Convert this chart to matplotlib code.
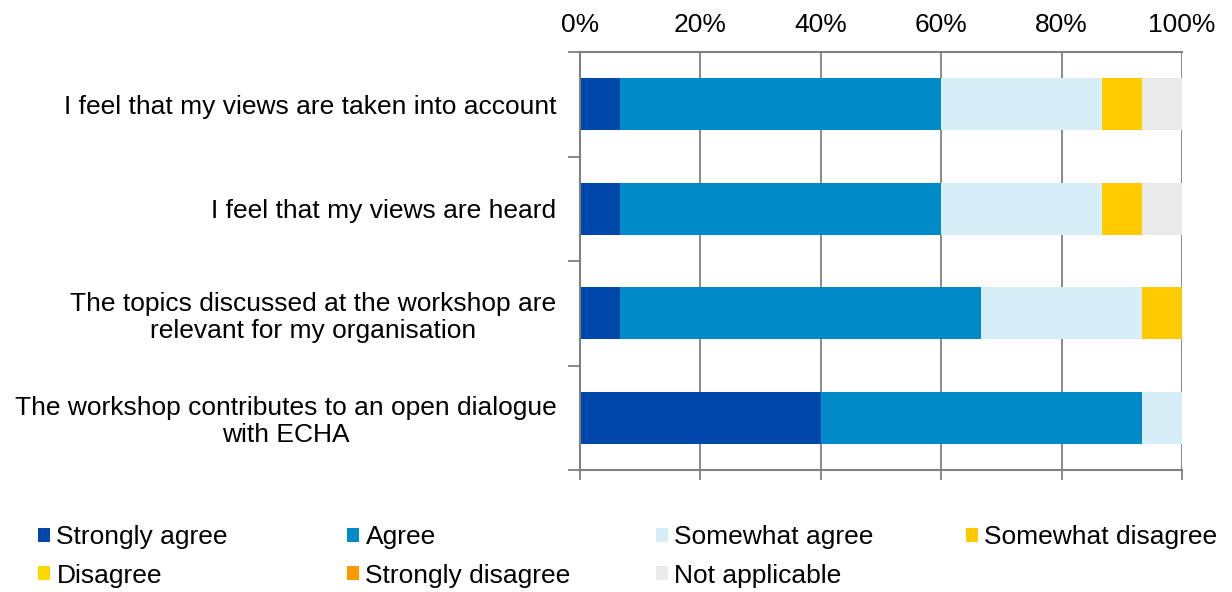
import matplotlib
matplotlib.use("Agg")
import matplotlib.pyplot as plt
from matplotlib.patches import Patch
import numpy as np

plt.rcParams['font.family'] = ['Liberation Sans', 'DejaVu Sans']

categories = [
    "I feel that my views are taken into account",
    "I feel that my views are heard",
    "The topics discussed at the workshop are\nrelevant for my organisation",
    "The workshop contributes to an open dialogue\nwith ECHA",
]
series_names = ["Strongly agree", "Agree", "Somewhat agree", "Somewhat disagree",
                "Disagree", "Strongly disagree", "Not applicable"]
values = {
    "Strongly agree":    [6.67, 6.67, 6.67, 40.0],
    "Agree":             [53.33, 53.33, 60.0, 53.33],
    "Somewhat agree":    [26.67, 26.67, 26.67, 6.67],
    "Somewhat disagree": [6.67, 6.67, 6.67, 0.0],
    "Disagree":          [0.0, 0.0, 0.0, 0.0],
    "Strongly disagree": [0.0, 0.0, 0.0, 0.0],
    "Not applicable":    [6.67, 6.67, 0.0, 0.0],
}
colors = {
    "Strongly agree": "#0047AB",
    "Agree": "#008AC8",
    "Somewhat agree": "#D7EEF9",
    "Somewhat disagree": "#FFCA00",
    "Disagree": "#FFD800",
    "Strongly disagree": "#FF9900",
    "Not applicable": "#EAEAEA",
}
xticks = [0, 20, 40, 60, 80, 100]
xticklabels = ["0%", "20%", "40%", "60%", "80%", "100%"]

FS = 19

fig = plt.figure(figsize=(12.32, 5.92), dpi=100)
ax = fig.add_axes([580/1232, 1 - 470/592, 602/1232, 418/592])

y = np.arange(len(categories))
left = np.zeros(len(categories))
for name in series_names:
    v = np.array(values[name])
    ax.barh(y, v, left=left, height=0.5, color=colors[name], edgecolor='none', zorder=3)
    left += v

ax.set_xlim(0, 100)
ax.set_ylim(len(categories) - 0.5, -0.5)
ax.set_xticks(xticks)
ax.tick_params(axis='x', which='both', top=False, bottom=True, labelbottom=False, labeltop=True,
               length=7, width=1.3, color='#808080', labelsize=FS, pad=4, direction='out')
ax.set_xticklabels(xticklabels)
ax.grid(axis='x', color='#808080', linewidth=1.3, zorder=0)

ax.set_yticks(y)
ax.set_yticklabels(categories, fontsize=FS, ha='right', multialignment='center', linespacing=1.15)
ax.tick_params(axis='y', which='major', length=0, pad=17)
ax.set_yticks(np.arange(len(categories) + 1) - 0.5, minor=True)
ax.tick_params(axis='y', which='minor', length=9, width=1.3, color='#808080', direction='out')

for s in ['left', 'bottom', 'top']:
    ax.spines[s].set_visible(True)
    ax.spines[s].set_color('#808080')
    ax.spines[s].set_linewidth(1.5)
    ax.spines[s].set_zorder(4)
ax.spines['right'].set_visible(False)

# legend: 4 columns, row-wise ordering
col_x = [38, 347, 656, 966]
for i in range(4):
    names = [series_names[i]]
    if i + 4 < len(series_names):
        names.append(series_names[i + 4])
    handles = [Patch(facecolor=colors[n], edgecolor='none') for n in names]
    fig.legend(handles, names, loc='upper left', bbox_to_anchor=(col_x[i] / 1232, 1 - 525/592),
               frameon=False, fontsize=FS, handlelength=0.45, handleheight=0.45,
               handletextpad=0.25, labelspacing=0.55, borderpad=0, borderaxespad=0)

fig.savefig("out.png", dpi=100)
